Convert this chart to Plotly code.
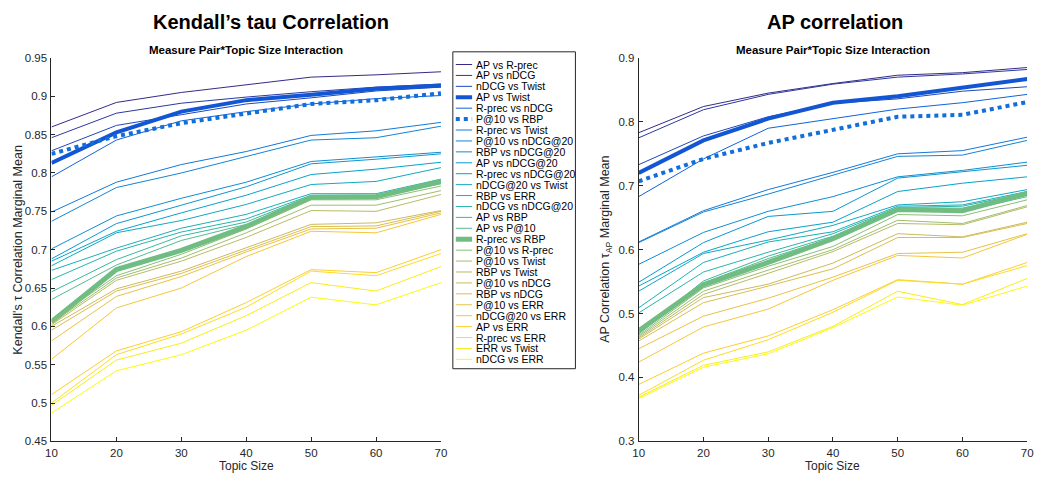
import plotly.graph_objects as go

# ---------------- data ----------------
topic_sizes = [10, 20, 30, 40, 50, 60, 70]
x_ticks = [10, 20, 30, 40, 50, 60, 70]
kt_yticks = [0.45, 0.5, 0.55, 0.6, 0.65, 0.7, 0.75, 0.8, 0.85, 0.9, 0.95]
ap_yticks = [0.3, 0.4, 0.5, 0.6, 0.7, 0.8, 0.9]

pair_names = [
    "AP vs R-prec", "AP vs nDCG", "nDCG vs Twist", "AP vs Twist", "R-prec vs nDCG",
    "P@10 vs RBP", "R-prec vs Twist", "P@10 vs nDCG@20", "RBP vs nDCG@20",
    "AP vs nDCG@20", "R-prec vs nDCG@20", "nDCG@20 vs Twist", "RBP vs ERR",
    "nDCG vs nDCG@20", "AP vs RBP", "AP vs P@10", "R-prec vs RBP", "P@10 vs R-prec",
    "P@10 vs Twist", "RBP vs Twist", "P@10 vs nDCG", "RBP vs nDCG", "P@10 vs ERR",
    "nDCG@20 vs ERR", "AP vs ERR", "R-prec vs ERR", "ERR vs Twist", "nDCG vs ERR",
]

# Kendall's tau marginal means (left panel)
kt_ap_rprec = [0.860, 0.892, 0.905, 0.915, 0.925, 0.928, 0.932]
kt_ap_ndcg = [0.846, 0.878, 0.891, 0.899, 0.906, 0.912, 0.916]
kt_ndcg_twist = [0.829, 0.862, 0.876, 0.890, 0.898, 0.907, 0.912]
kt_ap_twist = [0.813, 0.853, 0.880, 0.895, 0.902, 0.910, 0.914]
kt_rprec_ndcg = [0.795, 0.843, 0.868, 0.880, 0.890, 0.897, 0.901]
kt_p10_rbp = [0.825, 0.848, 0.865, 0.878, 0.890, 0.895, 0.904]
kt_rprec_twist = [0.749, 0.788, 0.811, 0.828, 0.849, 0.855, 0.866]
kt_p10_ndcg20 = [0.737, 0.781, 0.800, 0.821, 0.843, 0.846, 0.861]
kt_rbp_ndcg20 = [0.701, 0.744, 0.767, 0.788, 0.815, 0.821, 0.827]
kt_ap_ndcg20 = [0.688, 0.734, 0.758, 0.782, 0.812, 0.818, 0.825]
kt_rprec_ndcg20 = [0.685, 0.724, 0.748, 0.771, 0.798, 0.805, 0.814]
kt_ndcg20_twist = [0.679, 0.722, 0.738, 0.759, 0.785, 0.789, 0.807]
kt_rbp_err = [0.673, 0.702, 0.728, 0.746, 0.773, 0.773, 0.792]
kt_ndcg_ndcg20 = [0.661, 0.698, 0.723, 0.740, 0.771, 0.771, 0.790]
kt_ap_rbp = [0.645, 0.687, 0.718, 0.736, 0.770, 0.770, 0.788]
kt_ap_p10 = [0.635, 0.680, 0.712, 0.733, 0.768, 0.768, 0.786]
kt_rprec_rbp = [0.606, 0.674, 0.699, 0.730, 0.768, 0.769, 0.789]
kt_p10_rprec = [0.607, 0.666, 0.694, 0.727, 0.765, 0.765, 0.783]
kt_p10_twist = [0.604, 0.663, 0.689, 0.722, 0.758, 0.758, 0.777]
kt_rbp_twist = [0.602, 0.660, 0.685, 0.716, 0.751, 0.750, 0.772]
kt_p10_ndcg = [0.600, 0.649, 0.672, 0.702, 0.733, 0.735, 0.751]
kt_rbp_ndcg = [0.595, 0.646, 0.669, 0.699, 0.730, 0.731, 0.750]
kt_p10_err = [0.581, 0.639, 0.665, 0.697, 0.727, 0.728, 0.748]
kt_ndcg20_err = [0.557, 0.624, 0.650, 0.691, 0.724, 0.722, 0.746]
kt_ap_err = [0.511, 0.568, 0.593, 0.631, 0.674, 0.670, 0.700]
kt_rprec_err = [0.500, 0.563, 0.590, 0.625, 0.672, 0.666, 0.695]
kt_err_twist = [0.497, 0.556, 0.578, 0.614, 0.657, 0.646, 0.678]
kt_ndcg_err = [0.487, 0.542, 0.563, 0.595, 0.638, 0.628, 0.657]

# AP correlation marginal means (right panel)
ap_ap_rprec = [0.783, 0.824, 0.845, 0.860, 0.873, 0.877, 0.885]
ap_ap_ndcg = [0.775, 0.819, 0.843, 0.859, 0.870, 0.875, 0.882]
ap_ndcg_twist = [0.733, 0.778, 0.808, 0.829, 0.836, 0.848, 0.855]
ap_ap_twist = [0.720, 0.771, 0.805, 0.830, 0.840, 0.853, 0.867]
ap_rprec_ndcg = [0.683, 0.742, 0.790, 0.805, 0.820, 0.830, 0.843]
ap_p10_rbp = [0.707, 0.742, 0.767, 0.787, 0.808, 0.811, 0.831]
ap_rprec_twist = [0.612, 0.661, 0.694, 0.721, 0.750, 0.755, 0.776]
ap_p10_ndcg20 = [0.611, 0.659, 0.687, 0.716, 0.746, 0.748, 0.771]
ap_rbp_ndcg20 = [0.577, 0.627, 0.660, 0.683, 0.714, 0.724, 0.737]
ap_ap_ndcg20 = [0.549, 0.611, 0.652, 0.660, 0.712, 0.722, 0.732]
ap_rprec_ndcg20 = [0.543, 0.596, 0.628, 0.643, 0.691, 0.704, 0.714]
ap_ndcg20_twist = [0.535, 0.594, 0.615, 0.638, 0.670, 0.675, 0.694]
ap_rbp_err = [0.509, 0.580, 0.612, 0.628, 0.668, 0.670, 0.691]
ap_ndcg_ndcg20 = [0.501, 0.565, 0.596, 0.625, 0.666, 0.668, 0.689]
ap_ap_rbp = [0.470, 0.551, 0.590, 0.621, 0.665, 0.665, 0.686]
ap_ap_p10 = [0.468, 0.548, 0.586, 0.619, 0.661, 0.660, 0.683]
ap_rprec_rbp = [0.473, 0.545, 0.580, 0.617, 0.663, 0.661, 0.688]
ap_p10_rprec = [0.466, 0.540, 0.574, 0.605, 0.655, 0.653, 0.678]
ap_p10_twist = [0.464, 0.535, 0.568, 0.600, 0.646, 0.641, 0.669]
ap_rbp_twist = [0.462, 0.530, 0.563, 0.597, 0.641, 0.639, 0.667]
ap_p10_ndcg = [0.460, 0.525, 0.546, 0.579, 0.625, 0.620, 0.643]
ap_rbp_ndcg = [0.457, 0.517, 0.543, 0.570, 0.619, 0.619, 0.641]
ap_p10_err = [0.445, 0.496, 0.524, 0.557, 0.594, 0.596, 0.625]
ap_ndcg20_err = [0.424, 0.479, 0.507, 0.552, 0.591, 0.587, 0.624]
ap_ap_err = [0.389, 0.438, 0.465, 0.506, 0.553, 0.546, 0.580]
ap_rprec_err = [0.372, 0.427, 0.459, 0.502, 0.552, 0.546, 0.575]
ap_err_twist = [0.369, 0.419, 0.440, 0.480, 0.535, 0.514, 0.555]
ap_ndcg_err = [0.367, 0.416, 0.437, 0.478, 0.526, 0.513, 0.543]

kendall_series = [
    kt_ap_rprec, kt_ap_ndcg, kt_ndcg_twist, kt_ap_twist, kt_rprec_ndcg, kt_p10_rbp,
    kt_rprec_twist, kt_p10_ndcg20, kt_rbp_ndcg20, kt_ap_ndcg20, kt_rprec_ndcg20,
    kt_ndcg20_twist, kt_rbp_err, kt_ndcg_ndcg20, kt_ap_rbp, kt_ap_p10, kt_rprec_rbp,
    kt_p10_rprec, kt_p10_twist, kt_rbp_twist, kt_p10_ndcg, kt_rbp_ndcg, kt_p10_err,
    kt_ndcg20_err, kt_ap_err, kt_rprec_err, kt_err_twist, kt_ndcg_err,
]
apcorr_series = [
    ap_ap_rprec, ap_ap_ndcg, ap_ndcg_twist, ap_ap_twist, ap_rprec_ndcg, ap_p10_rbp,
    ap_rprec_twist, ap_p10_ndcg20, ap_rbp_ndcg20, ap_ap_ndcg20, ap_rprec_ndcg20,
    ap_ndcg20_twist, ap_rbp_err, ap_ndcg_ndcg20, ap_ap_rbp, ap_ap_p10, ap_rprec_rbp,
    ap_p10_rprec, ap_p10_twist, ap_rbp_twist, ap_p10_ndcg, ap_rbp_ndcg, ap_p10_err,
    ap_ndcg20_err, ap_ap_err, ap_rprec_err, ap_err_twist, ap_ndcg_err,
]

# ---------------- styling ----------------
W, H = 1050, 481
FONT = "Liberation Sans, Arial, Helvetica, sans-serif"
AXC = "#262626"

parula_anchors = ["#352A87", "#0F5CDD", "#1481D6", "#06A4CA", "#2EB7A4",
                  "#87BF77", "#D1BB59", "#FEC832", "#F9FB0E"]


def hex2rgb(h):
    h = h.lstrip("#")
    return [int(h[i:i + 2], 16) for i in (0, 2, 4)]


def parula(t):
    n = len(parula_anchors) - 1
    pos = t * n
    i = min(int(pos), n - 1)
    f = pos - i
    a, b = hex2rgb(parula_anchors[i]), hex2rgb(parula_anchors[i + 1])
    c = [round(a[k] + (b[k] - a[k]) * f) for k in range(3)]
    return "rgb(%d,%d,%d)" % tuple(c)


N = len(pair_names)
colors = [parula(i / (N - 1)) for i in range(N)]
widths = [1.0] * N
dashes = ["solid"] * N
widths[3] = 4.0            # AP vs Twist
widths[5] = 4.0            # P@10 vs RBP
dashes[5] = "dot"
widths[16] = 5.0           # R-prec vs RBP


def px_x(px):
    return px / W


def px_y(py):
    return 1 - py / H


fig = go.Figure()
for i, name in enumerate(pair_names):
    fig.add_trace(go.Scatter(x=topic_sizes, y=kendall_series[i], mode="lines", name=name,
                             line=dict(color=colors[i], width=widths[i], dash=dashes[i]),
                             xaxis="x", yaxis="y", showlegend=False))
    fig.add_trace(go.Scatter(x=topic_sizes, y=apcorr_series[i], mode="lines", name=name,
                             line=dict(color=colors[i], width=widths[i], dash=dashes[i]),
                             xaxis="x2", yaxis="y2", showlegend=False))

ydom = [px_y(446.5), px_y(53.3)]
axis_common = dict(showline=True, linecolor=AXC, linewidth=1, ticks="inside", ticklen=4,
                   tickcolor=AXC, showgrid=False, zeroline=False, mirror=False,
                   ticklabelstandoff=1,
                   tickfont=dict(family=FONT, size=11.5, color=AXC))

fig.update_layout(
    width=W, height=H, margin=dict(l=0, r=0, t=0, b=0),
    paper_bgcolor="white", plot_bgcolor="white", showlegend=False,
    font=dict(family=FONT, color=AXC),
    xaxis=dict(domain=[px_x(46), px_x(440)], range=[10, 70], tickvals=x_ticks,
               anchor="y", **axis_common),
    yaxis=dict(domain=ydom, range=[0.45, 0.95], tickvals=kt_yticks, anchor="x",
               **axis_common),
    xaxis2=dict(domain=[px_x(640), px_x(1033)], range=[10, 70], tickvals=x_ticks,
                anchor="y2", **axis_common),
    yaxis2=dict(domain=ydom, range=[0.3, 0.9], tickvals=ap_yticks, anchor="x2",
                **axis_common),
)


def note(text, px, py, size, color=AXC, angle=0, xa="center"):
    return dict(text=text, x=px_x(px), y=px_y(py), xref="paper", yref="paper",
                xanchor=xa, yanchor="middle", showarrow=False, textangle=angle,
                font=dict(family=FONT, size=size, color=color))


ann = []
ann.append(note("<b>Kendall’s tau Correlation</b>", 268, 16, 20, "black"))
ann.append(note("<b>AP correlation</b>", 839, 16, 20, "black"))
for cx in (243, 836.5):
    ann.append(note("<b>Measure Pair*Topic Size Interaction</b>", cx, 45, 11.5, "black"))
    ann.append(note("Topic Size", cx, 472, 12))
ann.append(note("Kendall's τ Correlation Marginal Mean", 12, 250, 12.5, angle=-90))
ann.append(note("AP Correlation τ<sub>AP</sub> Marginal Mean", 607, 250, 12.5, angle=-90))

shapes = []
shapes.append(dict(type="rect", xref="paper", yref="paper", x0=px_x(452), x1=px_x(576),
                   y0=px_y(372), y1=px_y(47), line=dict(color=AXC, width=1),
                   fillcolor="white", layer="above"))
for i, name in enumerate(pair_names):
    yy = 60 + 11.2 * i
    shapes.append(dict(type="line", xref="paper", yref="paper", x0=px_x(455), x1=px_x(471.5),
                       y0=px_y(yy), y1=px_y(yy),
                       line=dict(color=colors[i], width=widths[i], dash=dashes[i]),
                       layer="above"))
    ann.append(note(name, 473, yy, 10.5, "black", xa="left"))

fig.update_layout(annotations=ann, shapes=shapes)
fig.write_html("out.html")
